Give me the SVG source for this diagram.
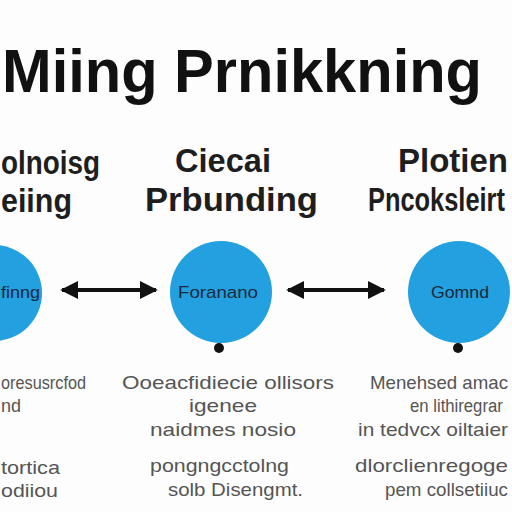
<svg xmlns="http://www.w3.org/2000/svg" width="512" height="512" viewBox="0 0 512 512">
<defs>
<marker id="ah" viewBox="0 0 10 10" refX="9" refY="5" markerWidth="4.5" markerHeight="4.5" orient="auto-start-reverse" markerUnits="strokeWidth">
<path d="M0,0 L10,5 L0,10 Z" fill="#111"/>
</marker>
<style>
.t{font-family:"Liberation Sans",Arial,sans-serif;fill:#111}
.h{font-family:"Liberation Sans",Arial,sans-serif;font-size:33px;font-weight:bold;fill:#1e1e1e}
.c{font-family:"Liberation Sans",Arial,sans-serif;font-size:17px;fill:#1a2a3a}
.b{font-family:"Liberation Sans",Arial,sans-serif;font-size:19px;fill:#555}
.n{fill:#22a0e0}
.d{fill:#111}
.a{stroke:#111;stroke-width:4;fill:none;marker-start:url(#ah);marker-end:url(#ah)}
</style>
</defs>
<rect width="512" height="512" fill="#fdfdfd"/>
<text class="t" x="2" y="92" font-size="62" font-weight="bold" textLength="480" lengthAdjust="spacingAndGlyphs">Miing Prnikkning</text>
<g id="headers">
<text class="h" x="1" y="174" textLength="99" lengthAdjust="spacingAndGlyphs">olnoisg</text>
<text class="h" x="1" y="212" textLength="71" lengthAdjust="spacingAndGlyphs">eiing</text>
<text class="h" x="175" y="172" textLength="96" lengthAdjust="spacingAndGlyphs">Ciecai</text>
<text class="h" x="145" y="211" textLength="173" lengthAdjust="spacingAndGlyphs">Prbunding</text>
<text class="h" x="398" y="172" textLength="110" lengthAdjust="spacingAndGlyphs">Plotien</text>
<text class="h" transform="translate(368,211) scale(0.77,1)" x="0" y="0">Pncoksleirt</text>
</g>
<g id="connectors">
<line class="a" x1="62" y1="290" x2="156" y2="290"/>
<line class="a" x1="288" y1="290" x2="384" y2="290"/>
</g>
<g id="node-left">
<circle class="n" cx="-6" cy="293" r="48"/>
<text class="c" x="1" y="298" textLength="39" lengthAdjust="spacingAndGlyphs">finng</text>
</g>
<g id="node-center">
<circle class="n" cx="221" cy="292" r="51"/>
<text class="c" x="178" y="298" textLength="80" lengthAdjust="spacingAndGlyphs">Foranano</text>
<circle class="d" cx="219" cy="348" r="5"/>
</g>
<g id="node-right">
<circle class="n" cx="459" cy="292" r="51"/>
<text class="c" x="431" y="298" textLength="58" lengthAdjust="spacingAndGlyphs">Gomnd</text>
<circle class="d" cx="458" cy="348" r="5"/>
</g>
<g id="desc-left">
<text class="b" x="1" y="389" textLength="85" lengthAdjust="spacingAndGlyphs">oresusrcfod</text>
<text class="b" x="1" y="412" textLength="20" lengthAdjust="spacingAndGlyphs">nd</text>
<text class="b" x="1" y="474" textLength="59" lengthAdjust="spacingAndGlyphs">tortica</text>
<text class="b" x="1" y="497" textLength="57" lengthAdjust="spacingAndGlyphs">odiiou</text>
</g>
<g id="desc-center">
<text class="b" x="122" y="389" textLength="212" lengthAdjust="spacingAndGlyphs">Ooeacfidiecie ollisors</text>
<text class="b" x="189" y="412" textLength="68" lengthAdjust="spacingAndGlyphs">igenee</text>
<text class="b" x="150" y="436" textLength="146" lengthAdjust="spacingAndGlyphs">naidmes  nosio</text>
<text class="b" x="150" y="472" textLength="139" lengthAdjust="spacingAndGlyphs">pongngcctolng</text>
<text class="b" x="168" y="496" textLength="135" lengthAdjust="spacingAndGlyphs">solb Disengmt.</text>
</g>
<g id="desc-right">
<text class="b" x="370" y="389" textLength="138" lengthAdjust="spacingAndGlyphs">Menehsed amac</text>
<text class="b" transform="translate(410,412) scale(0.88,1)" x="0" y="0">en lithiregrar</text>
<text class="b" x="358" y="436" textLength="150" lengthAdjust="spacingAndGlyphs">in tedvcx oiltaier</text>
<text class="b" x="355" y="472" textLength="153" lengthAdjust="spacingAndGlyphs">dlorclienregoge</text>
<text class="b" x="385" y="496" textLength="123" lengthAdjust="spacingAndGlyphs">pem collsetiiuc</text>
</g>
</svg>
